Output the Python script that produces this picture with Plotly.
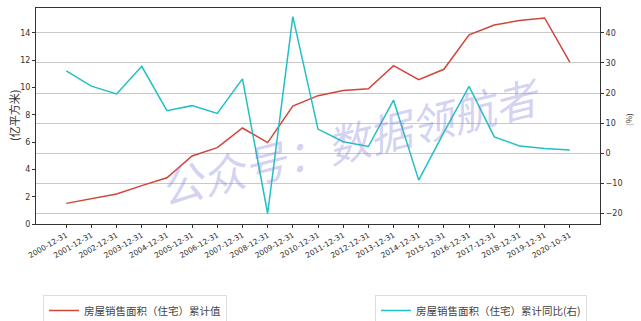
import plotly.graph_objects as go

dates = ["2000-12-31", "2001-12-31", "2002-12-31", "2003-12-31", "2004-12-31",
         "2005-12-31", "2006-12-31", "2007-12-31", "2008-12-31", "2009-12-31",
         "2010-12-31", "2011-12-31", "2012-12-31", "2013-12-31", "2014-12-31",
         "2015-12-31", "2016-12-31", "2017-12-31", "2018-12-31", "2019-12-31",
         "2020-10-31"]
area = [1.51, 1.83, 2.2, 2.81, 3.39, 4.98, 5.59, 7.03, 5.96, 8.64,
        9.4, 9.77, 9.91, 11.6, 10.57, 11.33, 13.85, 14.58, 14.9, 15.09, 11.85]
yoy = [27.4, 22.3, 19.7, 28.9, 14.1, 15.8, 13.2, 24.7, -20.1, 45.4,
       8.0, 3.8, 2.2, 17.6, -9.0, 6.9, 22.2, 5.4, 2.4, 1.5, 1.0]

name1 = "房屋销售面积（住宅）累计值"
name2 = "房屋销售面积（住宅）累计同比(右)"

FONT = "DejaVu Sans, Noto Sans CJK SC, sans-serif"
CJK = "Noto Sans CJK SC, sans-serif"

fig = go.Figure()
fig.add_trace(go.Scatter(x=dates, y=area, mode="lines", name=name1,
                         line=dict(color="#d2443a", width=1.5), legend="legend"))
fig.add_trace(go.Scatter(x=dates, y=yoy, mode="lines", name=name2, yaxis="y2",
                         line=dict(color="#22bfc4", width=1.5), legend="legend2"))

W, H = 641, 321
L, R, T, B = 36, 600, 8, 224

fig.update_layout(
    width=W, height=H,
    margin=dict(l=L, r=W - R, t=T, b=H - B, autoexpand=False),
    paper_bgcolor="white", plot_bgcolor="white",
    font=dict(family=FONT, size=8, color="#333"),
    xaxis=dict(type="category", range=[-1.2, 21.2], tickangle=-30, automargin=False,
               tickfont=dict(size=7.5, color="#333"), ticks="outside", ticklen=3,
               tickcolor="#333", showgrid=False, showline=True, linecolor="#333",
               linewidth=1, mirror=True, zeroline=False),
    yaxis=dict(range=[0, 15.82], tickvals=[0, 2, 4, 6, 8, 10, 12, 14], automargin=False,
               ticks="outside", ticklen=3, tickcolor="#333", showgrid=False,
               showline=True, linecolor="#333", linewidth=1, zeroline=False,
               tickfont=dict(size=8, color="#333")),
    yaxis2=dict(range=[-23.6, 48.3], tickvals=[-20, -10, 0, 10, 20, 30, 40],
                overlaying="y", side="right", ticks="outside", ticklen=3, automargin=False,
                tickcolor="#333", showgrid=True, gridcolor="#c8c8c8", gridwidth=1,
                showline=True, linecolor="#333", linewidth=1, zeroline=False,
                tickfont=dict(size=8, color="#333")),
    legend=dict(xref="container", yref="container", x=43 / W, y=1 - 295 / H,
                xanchor="left", yanchor="top", bordercolor="#dddddd", borderwidth=1,
                font=dict(family=CJK, size=10.5, color="#444"), bgcolor="white"),
    legend2=dict(xref="container", yref="container", x=375 / W, y=1 - 295 / H,
                 xanchor="left", yanchor="top", bordercolor="#dddddd", borderwidth=1,
                 font=dict(family=CJK, size=10.5, color="#444"), bgcolor="white"),
    showlegend=True,
)

fig.add_annotation(text="(亿平方米)", xref="paper", yref="paper",
                   x=(14 - L) / (R - L), y=0.5, xanchor="center", yanchor="middle",
                   textangle=-90, showarrow=False,
                   font=dict(family=CJK, size=11, color="#333"))
fig.add_annotation(text="(%)", xref="paper", yref="paper",
                   x=(628 - L) / (R - L), y=(B - 120) / (B - T),
                   xanchor="center", yanchor="middle", textangle=-90,
                   showarrow=False, font=dict(family=CJK, size=8, color="#333"))
fig.add_annotation(text="公众号：数据领航者", xref="paper", yref="paper",
                   x=(350 - L) / (R - L), y=(B - 140) / (B - T),
                   xanchor="center", yanchor="middle", textangle=-14,
                   showarrow=False,
                   font=dict(family=CJK, size=43, color="rgba(130,130,220,0.36)",
                             style="italic"))

fig.write_html("out.html")
